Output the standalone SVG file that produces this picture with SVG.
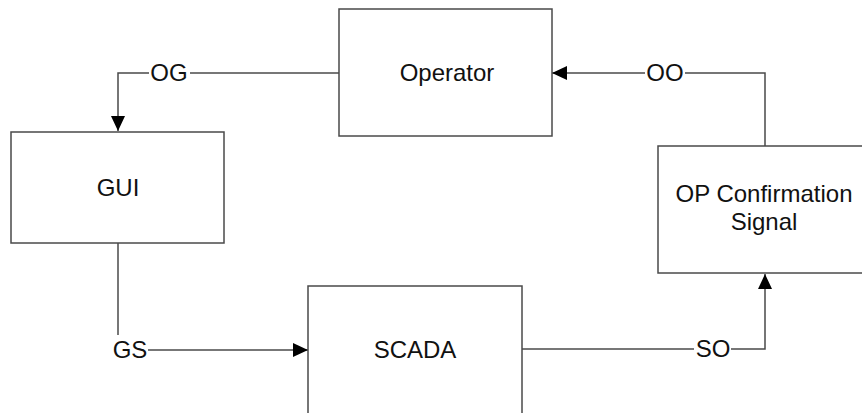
<svg xmlns="http://www.w3.org/2000/svg" width="862" height="413" viewBox="0 0 862 413">
  <defs>
    <marker id="arrow" viewBox="0 0 15 14" refX="15" refY="7" markerWidth="15" markerHeight="14" markerUnits="userSpaceOnUse" orient="auto">
      <path d="M0,0 L15,7 L0,14 Z" fill="#000"/>
    </marker>
    <style>
      .box { fill: #fff; stroke: #4a4a4a; stroke-width: 1.5; }
      .wire { fill: none; stroke: #4a4a4a; stroke-width: 1.5; }
      .label { font-family: "Liberation Sans", Arial, sans-serif; font-size: 24px; fill: #111; text-anchor: middle; }
    </style>
  </defs>
  <rect width="862" height="413" fill="#fff"/>

  <!-- connectors -->
  <g id="connectors">
    <!-- Operator -> GUI -->
    <polyline class="wire" points="339,73 190,73"/>
    <polyline class="wire" points="149,73 118,73 118,131" marker-end="url(#arrow)"/>
    <text class="label" x="169" y="81">OG</text>
    <!-- GUI -> SCADA -->
    <polyline class="wire" points="118,243 118,335"/>
    <polyline class="wire" points="148,350 308,350" marker-end="url(#arrow)"/>
    <text class="label" x="130" y="358">GS</text>
    <!-- SCADA -> OP Confirmation Signal -->
    <polyline class="wire" points="522,349 694,349"/>
    <polyline class="wire" points="731,349 765,349 765,274" marker-end="url(#arrow)"/>
    <text class="label" x="713" y="357">SO</text>
    <!-- OP Confirmation Signal -> Operator -->
    <polyline class="wire" points="765,146 765,73 685,73"/>
    <polyline class="wire" points="645,73 552,73" marker-end="url(#arrow)"/>
    <text class="label" x="665" y="81">OO</text>
  </g>

  <!-- nodes -->
  <g id="operator">
    <rect class="box" x="339" y="9" width="213" height="127"/>
    <text class="label" x="447" y="81">Operator</text>
  </g>
  <g id="gui">
    <rect class="box" x="11" y="132" width="213" height="111"/>
    <text class="label" x="118" y="196">GUI</text>
  </g>
  <g id="scada">
    <rect class="box" x="308" y="286" width="214" height="140"/>
    <text class="label" x="415" y="358">SCADA</text>
  </g>
  <g id="op-confirmation">
    <rect class="box" x="658" y="146" width="215" height="127"/>
    <text class="label" x="764" y="202">OP Confirmation</text>
    <text class="label" x="764" y="230">Signal</text>
  </g>
</svg>
